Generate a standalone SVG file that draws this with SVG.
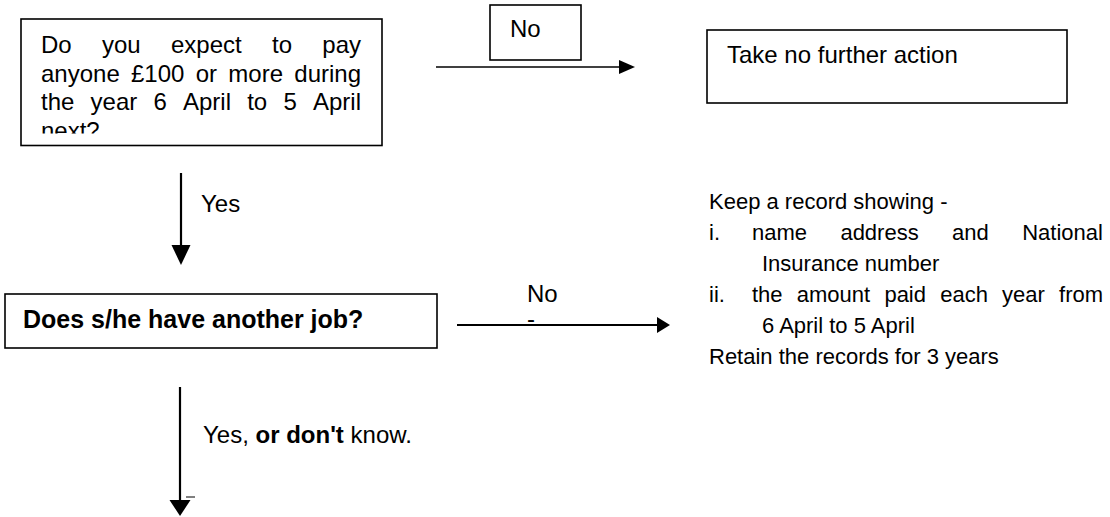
<svg xmlns="http://www.w3.org/2000/svg" width="1110" height="517" viewBox="0 0 1110 517">
<style>
text{font-family:"Liberation Sans",Arial,sans-serif;fill:#000}
.box{fill:#fff;stroke:#000;stroke-width:1.6}
.t24{font-size:24px}
.t22{font-size:22px}
.b{font-weight:bold}
.ln{stroke:#000;fill:none}
.hd{fill:#000}
</style>
<defs>
<clipPath id="clip1"><rect x="21" y="19" width="361" height="114.5"/></clipPath>
</defs>
<rect width="1110" height="517" fill="#fff"/>
<g id="node-q1">
<rect class="box" x="21" y="19" width="361" height="126.5"/>
<g clip-path="url(#clip1)">
<text class="t24"><tspan x="41" y="53">Do</tspan><tspan x="102" y="53">you</tspan><tspan x="171" y="53">expect</tspan><tspan x="272" y="53">to</tspan><tspan x="322.3" y="53">pay</tspan></text>
<text class="t24"><tspan x="41" y="81.5">anyone</tspan><tspan x="131" y="81.5">£100</tspan><tspan x="195.7" y="81.5">or</tspan><tspan x="228.3" y="81.5">more</tspan><tspan x="294.3" y="81.5">during</tspan></text>
<text class="t24"><tspan x="41" y="110">the</tspan><tspan x="90.6" y="110">year</tspan><tspan x="153.5" y="110">6</tspan><tspan x="183" y="110">April</tspan><tspan x="247.2" y="110">to</tspan><tspan x="283.4" y="110">5</tspan><tspan x="313" y="110">April</tspan></text>
<text class="t24" x="41" y="138.5">next?</text>
</g>
</g>
<g id="label-no1">
<rect class="box" x="490" y="5" width="91" height="55"/>
<text class="t24" x="510" y="37">No</text>
</g>
<g id="node-nofurther">
<rect class="box" x="707" y="30" width="360" height="73"/>
<text class="t24" x="727" y="63">Take no further action</text>
</g>
<g id="node-q2">
<rect class="box" x="5" y="294" width="432" height="54"/>
<text class="t24 b" x="23" y="328" style="font-size:25px">Does s/he have another job?</text>
</g>
<g id="node-record">
<text class="t22" x="709" y="209">Keep a record showing -</text>
<text class="t22"><tspan x="709" y="240">i.</tspan><tspan x="752" y="240">name</tspan><tspan x="840.4" y="240">address</tspan><tspan x="952.1" y="240">and</tspan><tspan x="1022.2" y="240">National</tspan></text>
<text class="t22" x="762" y="271">Insurance number</text>
<text class="t22"><tspan x="709" y="302">ii.</tspan><tspan x="752" y="302">the</tspan><tspan x="796.8" y="302">amount</tspan><tspan x="884.4" y="302">paid</tspan><tspan x="940.2" y="302">each</tspan><tspan x="1002.1" y="302">year</tspan><tspan x="1059.1" y="302">from</tspan></text>
<text class="t22" x="762" y="333">6 April to 5 April</text>
<text class="t22" x="709" y="364">Retain the records for 3 years</text>
</g>
<g id="connectors">
<line class="ln" x1="436" y1="67" x2="620" y2="67" stroke-width="1.5"/>
<polygon class="hd" points="619,60 635,67 619,74"/>
<line class="ln" x1="181" y1="173" x2="181" y2="246" stroke-width="2.2"/>
<polygon class="hd" points="171.5,245 190.5,245 181,265"/>
<text class="t24" x="201" y="212">Yes</text>
<line class="ln" x1="457" y1="325" x2="658" y2="325" stroke-width="2"/>
<polygon class="hd" points="657,317 670,325 657,333"/>
<text class="t24" x="527" y="302">No</text>
<text class="t24" x="527" y="327">-</text>
<line class="ln" x1="180" y1="387" x2="180" y2="501" stroke-width="2.2"/>
<polygon class="hd" points="169.5,500 190.5,500 180,516"/>
<line class="ln" x1="186" y1="497" x2="195" y2="497" stroke-width="1"/>
<text class="t24" x="203" y="443">Yes, <tspan class="b">or don't</tspan> know.</text>
</g>
</svg>
